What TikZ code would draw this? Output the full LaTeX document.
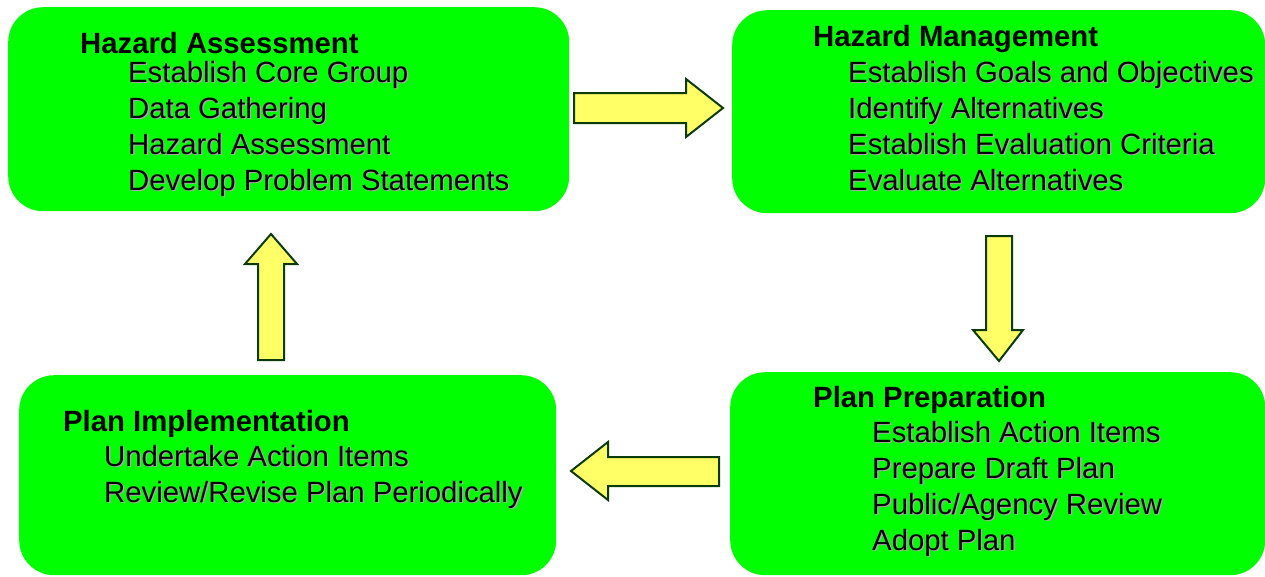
\documentclass[tikz,border=0pt]{standalone}
\usepackage{fontspec}
\setmainfont{Liberation Sans}
\definecolor{boxgreen}{HTML}{00FF00}
\definecolor{arrowyellow}{HTML}{FFFF66}
\definecolor{arrowline}{HTML}{0B3A0B}
\definecolor{shadowgray}{HTML}{A8A8A8}
\newcommand{\itm}[4]{%
  \node[item, text=shadowgray] (#1s) at ($(#2,#3)+(1.3,1.3)$) {#4};
  \node[item] (#1) at (#2,#3) {#4};}
\usetikzlibrary{calc}
\begin{document}
\begin{tikzpicture}[x=1pt,y=-1pt,
  box/.style={fill=boxgreen, rounded corners=35pt, inner sep=0pt, anchor=north west},
  blockarrow/.style={fill=arrowyellow, draw=arrowline, line width=2pt, line join=miter},
  title/.style={anchor=base west, inner sep=0pt, font=\fontsize{29.3}{30}\selectfont\bfseries},
  item/.style={anchor=base west, inner sep=0pt, font=\fontsize{29.3}{30}\selectfont}]
\useasboundingbox (0,0) rectangle (1265,576);
% boxes
\node[box, minimum width=561pt, minimum height=204pt] (ha) at (8,7) {};
\node[box, minimum width=533pt, minimum height=203pt] (hm) at (732,10) {};
\node[box, minimum width=537pt, minimum height=200pt] (pi) at (19,375) {};
\node[box, minimum width=535pt, minimum height=203pt] (pp) at (730,372) {};
% texts box 1
\node[title] (hat) at (80,53) {Hazard Assessment};
\itm{ha1}{128}{82}{Establish Core Group}
\itm{ha2}{128}{118}{Data Gathering}
\itm{ha3}{128}{154}{Hazard Assessment}
\itm{ha4}{128}{190}{Develop Problem Statements}
% box 2
\node[title] (hmt) at (813,46) {Hazard Management};
\itm{hm1}{848}{82}{Establish Goals and Objectives}
\itm{hm2}{848}{118}{Identify Alternatives}
\itm{hm3}{848}{154}{Establish Evaluation Criteria}
\itm{hm4}{848}{190}{Evaluate Alternatives}
% box 3
\node[title] (pit) at (63,431) {Plan Implementation};
\itm{pi1}{104}{466}{Undertake Action Items}
\itm{pi2}{104}{502}{Review/Revise Plan Periodically}
% box 4
\node[title] (ppt) at (813,407) {Plan Preparation};
\itm{pp1}{872}{442}{Establish Action Items}
\itm{pp2}{872}{478}{Prepare Draft Plan}
\itm{pp3}{872}{514}{Public/Agency Review}
\itm{pp4}{872}{550}{Adopt Plan}
% block arrows
\draw[blockarrow] (574,93) -- (686,93) -- (686,79) -- (723,108) -- (686,137) -- (686,123) -- (574,123) -- cycle;
\draw[blockarrow] (986,236) -- (1012,236) -- (1012,330) -- (1023,330) -- (999,361) -- (973,330) -- (986,330) -- cycle;
\draw[blockarrow] (719,457) -- (608,457) -- (608,442) -- (571,471) -- (608,500) -- (608,486) -- (719,486) -- cycle;
\draw[blockarrow] (258,360) -- (258,264) -- (245,264) -- (271,234) -- (297,264) -- (284,264) -- (284,360) -- cycle;
\end{tikzpicture}
\end{document}
